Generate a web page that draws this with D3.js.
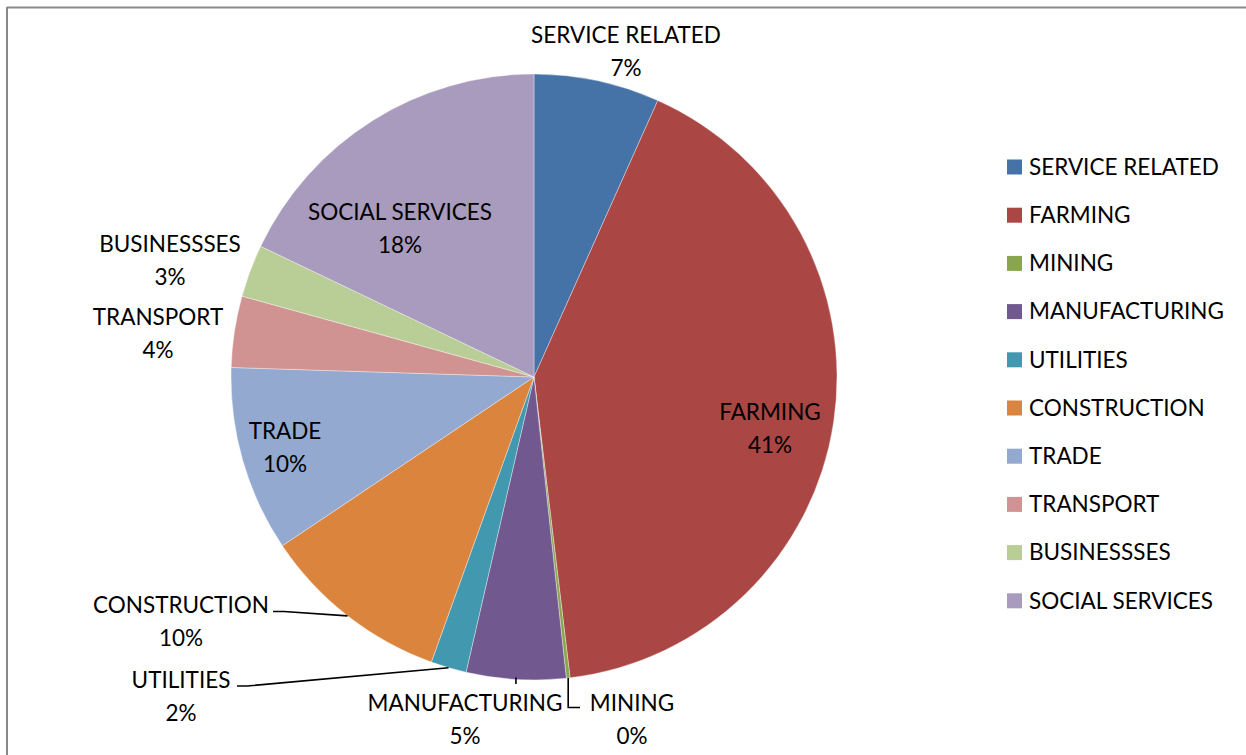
<!DOCTYPE html>
<html>
<head>
<meta charset="utf-8">
<script src="https://cdn.jsdelivr.net/npm/d3@7"></script>
<style>
  html, body { margin: 0; padding: 0; background: #fff; }
  svg { display: block; }
  text { font-family: Lato, "Open Sans", sans-serif; fill: #000; }
</style>
</head>
<body>
<svg id="chart" width="1246" height="755"></svg>
<script>
// Employment share by sector (percent)
const sectors = ["SERVICE RELATED", "FARMING", "MINING", "MANUFACTURING", "UTILITIES",
                 "CONSTRUCTION", "TRADE", "TRANSPORT", "BUSINESSSES", "SOCIAL SERVICES"];
const shares = [6.7, 41.4, 0.2, 5.3, 1.9, 10.1, 9.9, 3.8, 2.8, 17.9];
const sliceColors = ["#4572A7", "#AA4643", "#89A54E", "#71588F", "#4198AF",
                     "#DB843D", "#93A9CF", "#D19392", "#B9CD96", "#A99BBD"];

// Label anchor points (centre of the two-line label) for each slice
const labelPos = [
  [626, 35], [770, 412], [632, 703], [465, 703], [181, 680],
  [181, 605], [285, 431], [158, 317], [170, 244], [400, 212]
];

const W = 1246, H = 755;
const cx = 534, cy = 377, R = 303;
const fontSize = 22.5, lineGap = 33;

const svg = d3.select("#chart");

// chart frame (top and left edges visible)
svg.append("line").attr("x1", 7).attr("y1", 7.5).attr("x2", W).attr("y2", 7.5)
  .attr("stroke", "#898989").attr("stroke-width", 2);
svg.append("line").attr("x1", 7).attr("y1", 7).attr("x2", 7).attr("y2", H)
  .attr("stroke", "#898989").attr("stroke-width", 2);

const data = sectors.map((name, i) => ({ name, value: shares[i], color: sliceColors[i], i }));

const pie = d3.pie().value(d => d.value).sort(null);
const arc = d3.arc().innerRadius(0).outerRadius(R);
const arcs = pie(data);

const g = svg.append("g").attr("transform", `translate(${cx},${cy})`);
g.selectAll("path.slice").data(arcs).join("path")
  .attr("class", "slice")
  .attr("d", arc)
  .attr("fill", d => d.data.color)
  .attr("stroke", "#fff")
  .attr("stroke-width", 0.6)
  .attr("stroke-opacity", 0.6);

// leader lines for the small bottom slices
const edge = (d, frac) => {
  const a = d.startAngle + (d.endAngle - d.startAngle) * frac;
  return [cx + R * Math.sin(a), cy - R * Math.cos(a)];
};
const leaders = {
  2: d => { const p = edge(d, 0.5); return [p, [p[0], 707.5], [580, 707.5]]; },
  3: d => { const p = edge(d, 0.5); return [[p[0], p[1] - 2], [p[0], 684]]; },
  4: d => { const p = edge(d, 0.5); return [p, [247, 686], [237, 686]]; },
  5: d => { const p = edge(d, 0.5); return [p, [284, 611.5], [273, 611.5]]; }
};
const line = d3.line();
arcs.forEach(d => {
  const f = leaders[d.data.i];
  if (f) {
    svg.append("path").attr("d", line(f(d)))
      .attr("fill", "none").attr("stroke", "#000").attr("stroke-width", 1.6);
  }
});

// slice labels: name and rounded percent
const fmt = d3.format(".0%");
const labels = svg.append("g").selectAll("text").data(arcs).join("text")
  .attr("text-anchor", "middle")
  .attr("font-size", fontSize)
  .attr("x", d => labelPos[d.data.i][0])
  .attr("y", d => labelPos[d.data.i][1]);
labels.append("tspan")
  .attr("x", d => labelPos[d.data.i][0])
  .attr("dy", "0.35em")
  .text(d => d.data.name);
labels.append("tspan")
  .attr("x", d => labelPos[d.data.i][0])
  .attr("dy", lineGap)
  .text(d => fmt(d.data.value / 100));

// legend
const legend = svg.append("g").attr("transform", "translate(1007,167)");
const rowStep = 48.2;
const items = legend.selectAll("g").data(data).join("g")
  .attr("transform", (d, i) => `translate(0,${i * rowStep})`);
items.append("rect").attr("x", 0).attr("y", -7.5).attr("width", 15).attr("height", 15)
  .attr("fill", d => d.color);
items.append("text").attr("x", 22).attr("dy", "0.35em")
  .attr("font-size", fontSize).text(d => d.name);
</script>
</body>
</html>
